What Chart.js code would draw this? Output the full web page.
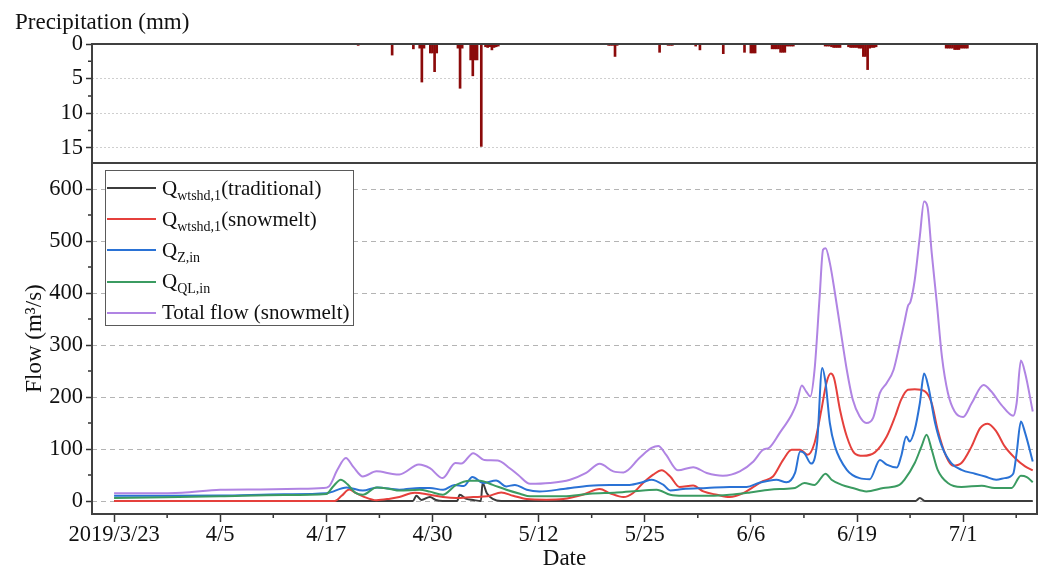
<!DOCTYPE html>
<html>
<head>
<meta charset="utf-8">
<script src="https://cdn.jsdelivr.net/npm/chart.js@4.4.0/dist/chart.umd.min.js"></script>
<style>
  html, body { margin: 0; padding: 0; background: #fff; }
  #wrap { position: relative; width: 1041px; height: 570px; font-family: 'Liberation Serif', 'Times New Roman', serif; color: #111; }
  #precipTitle { position: absolute; left: 15px; top: 9px; font-size: 23px; line-height: 26px; }
  #legend { position: absolute; left: 105px; top: 170px; width: 247px; height: 154px; border: 1px solid #5a5a5a; background: #fff; }
  .row { position: absolute; left: 1px; height: 31px; display: flex; align-items: center; }
  .swatch { width: 49px; height: 2px; margin-right: 6px; }
  .txt { font-size: 21px; white-space: nowrap; line-height: 31px; }
  .txt sub { font-size: 14px; vertical-align: -5px; line-height: 0; }
</style>
</head>
<body>
<div id="wrap">
  <canvas id="flowChart" width="1041" height="570"></canvas>
  <div id="precipTitle">Precipitation (mm)</div>
  <div id="legend"></div>
</div>
<script>
// days counted from 2019/3/23
const tickDays = [0, 12.5, 25, 37.5, 50, 62.5, 75, 87.5, 100];
const dateLabels = ['2019/3/23', '4/5', '4/17', '4/30', '5/12', '5/25', '6/6', '6/19', '7/1'];
const flowTicks = [0, 100, 200, 300, 400, 500, 600];
const precipTicks = [0, 5, 10, 15];

const precipDays = [28.75, 32.75, 35.25, 36.0, 36.25, 36.5, 37.25, 37.5, 37.75, 38.0,
  40.5, 40.75, 41.0, 42.0, 42.25, 42.5, 42.75, 43.25,
  43.75, 44.0, 44.25, 44.5, 44.75, 45.0, 45.25,
  58.25, 58.5, 58.75, 59.0, 59.25, 64.25, 65.25, 65.5, 65.75, 68.5, 69.0, 71.75, 74.25,
  75.0, 75.25, 75.5, 77.5, 77.75, 78.0, 78.25, 78.5, 78.75, 79.0, 79.25, 79.5, 79.75, 80.0,
  83.75, 84.0, 84.25, 84.5, 84.75, 85.0, 85.25, 85.5,
  86.5, 86.75, 87.0, 87.25, 87.5, 87.75, 88.0, 88.25, 88.5, 88.75, 89.0, 89.25, 89.5, 89.75,
  98.0, 98.25, 98.5, 98.75, 99.0, 99.25, 99.5, 99.75, 100.0, 100.25, 100.5];
const precipMm = [0.2, 1.6, 0.7, 0.6, 5.5, 0.6, 1.3, 1.3, 4.0, 1.3,
  0.6, 6.4, 0.6, 2.3, 4.6, 2.3, 2.3, 14.8,
  0.4, 0.5, 0.4, 0.85, 0.5, 0.4, 0.3,
  0.2, 0.2, 0.2, 1.8, 0.2, 1.2, 0.2, 0.2, 0.2, 0.3, 0.85, 1.4, 1.2,
  1.3, 1.3, 1.3, 0.7, 0.7, 0.7, 0.7, 1.2, 1.2, 1.2, 0.3, 0.3, 0.3, 0.3,
  0.3, 0.3, 0.3, 0.4, 0.5, 0.5, 0.5, 0.5,
  0.4, 0.5, 0.5, 0.5, 0.5, 0.6, 0.6, 1.8, 1.8, 3.7, 0.6, 0.5, 0.5, 0.4,
  0.6, 0.6, 0.6, 0.6, 0.8, 0.8, 0.8, 0.6, 0.6, 0.6, 0.6];

// [day, flow m3/s]
const traditional = [[0, 0], [35.2, 0], [35.6, 10], [36.2, 2], [37.2, 7.7], [37.9, 2], [38.7, 0], [40.4, 0],
  [40.7, 12], [41.5, 4], [42.3, 2], [43.2, 0], [43.4, 34.6], [43.9, 15], [44.6, 4], [45.6, 0],
  [94.4, 0], [94.9, 5.8], [95.5, 0], [108.2, 0]];

const snowmelt = [[0, 0], [26, 0], [26.8, 10], [27.7, 22], [28.5, 15], [29.3, 9], [30.9, 1.5], [32.5, 4.5],
  [33.6, 7.7], [35.4, 16], [37.2, 12], [38.75, 7.7], [40.3, 5.8], [42.3, 7.7], [44, 9], [45.6, 16.5],
  [47, 10], [48.6, 3.8], [50.9, 2.6], [52.9, 3.8], [55.2, 12], [57.2, 23], [58.4, 15], [60, 7.7],
  [61.1, 15], [62.3, 34.6], [63.5, 50.6], [64.5, 59], [65.5, 47], [66.6, 27], [68.2, 30], [69.4, 18.5],
  [71, 12], [72.5, 7.7], [74.1, 15], [75.3, 27], [76.4, 38], [77.6, 47], [78.8, 79], [79.8, 98.6],
  [80.8, 98.6], [81.7, 89], [82.5, 111.5], [83.3, 175], [83.9, 227], [84.4, 245], [84.8, 236],
  [85.5, 175], [86.3, 124], [87.2, 92], [88.2, 87], [89.6, 93.5], [91, 124], [92, 163], [92.7, 195],
  [93.5, 214], [94.3, 215], [95.5, 211], [96.3, 188], [97, 137], [98, 86], [98.8, 68], [99.8, 73],
  [101, 105], [102, 140], [102.9, 148.6], [103.9, 134], [104.9, 105], [106.1, 82.7], [107.3, 66.5], [108.2, 59]];

const zInflow = [[0, 10], [6, 10], [12.5, 10.5], [20, 13], [25, 15], [27.4, 26], [29.3, 20], [31, 26],
  [33.6, 21.7], [36, 25], [37.2, 25], [38.75, 21.7], [40.1, 31], [41.2, 29], [42.2, 46], [43.5, 34.6],
  [45, 39.6], [46.2, 28], [47.2, 31], [48.6, 21.7], [50.1, 18.5], [52.9, 23], [56, 29.4], [58.4, 30.7],
  [60.7, 31], [62.3, 36.5], [63.3, 41], [64.7, 31], [65.5, 20.4], [67, 23], [69.8, 25], [72.5, 27],
  [74.5, 27], [76, 35], [78, 41], [79.2, 36], [80.2, 54], [80.8, 95], [81.3, 92], [82.1, 72],
  [82.8, 111.5], [83.4, 256], [83.8, 227], [84.3, 150], [84.9, 105], [86.3, 60], [87.8, 44], [89, 42],
  [90.2, 79], [91, 70], [92.2, 64.6], [92.7, 86], [93.3, 124], [93.7, 114.6], [94.3, 137], [94.9, 188],
  [95.4, 245], [95.9, 220], [96.7, 150], [97.5, 105], [98.6, 73], [99.8, 60], [101.4, 52.5], [102.6, 47],
  [103.9, 41], [104.9, 44], [105.9, 52.5], [106.3, 92], [106.8, 153], [107.3, 131], [108.2, 76]];

const qlInflow = [[0, 6], [6, 7], [12.5, 9], [20, 11.5], [25, 13.5], [25.8, 28], [26.7, 41], [27.5, 32],
  [28.4, 16], [29.3, 12], [30.9, 26], [32.5, 23], [33.6, 20], [36, 21.7], [37.2, 18], [38.7, 12],
  [40.3, 31], [41.9, 39], [43.1, 39], [44.6, 31], [46.2, 21.7], [47.8, 14], [49, 9], [52.9, 9],
  [56, 14], [59.2, 16.5], [62.3, 20.4], [63.9, 21.7], [65.5, 12], [67, 10], [70.2, 10], [72.5, 12],
  [74.9, 16.5], [77.2, 21.7], [78.4, 23], [80.2, 25], [81.3, 34.6], [82.5, 31], [83.8, 52.5], [84.5, 41],
  [85.7, 31], [87, 25], [88.6, 18.5], [90.6, 25], [92.5, 31], [93.1, 41], [94.3, 73], [95.1, 105],
  [95.7, 127.5], [96.3, 98.6], [97, 60], [98.2, 34.6], [99.8, 27], [102.2, 29.4], [103.7, 25],
  [105.7, 25], [106.8, 48.6], [107.5, 46], [108.2, 36]];

const totalFlow = [[0, 15], [4, 15], [8, 16], [12.5, 21.5], [17.2, 22.3], [21.9, 23.4], [24.6, 25],
  [25.3, 28], [26.3, 60], [27.3, 82.7], [28.2, 65], [29.3, 47], [30.9, 57], [32.8, 52], [33.6, 51],
  [35.9, 70], [37.2, 63], [38.7, 44], [40.2, 73], [40.9, 72], [42.3, 92], [43.6, 79], [45.2, 78],
  [46.6, 63], [47.6, 50], [49, 33], [51.3, 34.6], [53.7, 41], [55.6, 54], [57.2, 71.7], [58.8, 57],
  [60, 55], [61.9, 83], [63.3, 102], [64.1, 106], [65, 89], [66.4, 59], [68.2, 65], [69.8, 54],
  [71.7, 48.7], [73.7, 57], [75.3, 76], [76.4, 98], [77.2, 103], [78.4, 131], [79.8, 166], [80.4, 188],
  [81, 222], [81.5, 211], [82, 201], [82.5, 252], [83.1, 393], [83.5, 483], [83.8, 486], [84.3, 458],
  [84.9, 400], [85.5, 336], [86.3, 252], [87, 195], [87.8, 163], [88.6, 150], [89.4, 160], [90.2, 208],
  [91, 227], [91.8, 252], [92.5, 300], [93.1, 345], [93.5, 375], [93.8, 383], [94.3, 425], [94.9, 509],
  [95.4, 576], [95.8, 566], [96.3, 477], [96.9, 381], [97.5, 278], [98.2, 208], [99, 172], [100, 161.5],
  [101, 188], [102.4, 223], [103.3, 211], [104.5, 185], [105.9, 164], [106.3, 188], [106.8, 270],
  [107.3, 246], [108.2, 172]];

const seriesColors = ['#3c3c3c', '#e5403c', '#2a72d5', '#3b9b61', '#b084e3'];
const legendMain = ['Q', 'Q', 'Q', 'Q', 'Total flow (snowmelt)'];
const legendSub = ['wtshd,1', 'wtshd,1', 'Z,in', 'QL,in', ''];
const legendTail = ['(traditional)', '(snowmelt)', '', '', ''];

const fontFamily = "'Liberation Serif', 'Times New Roman', serif";
const toPoints = (pairs) => pairs.map(([x, y]) => ({ x, y }));

// later series are drawn over earlier ones (black lowest)
function lineSet(label, pairs, idx) {
  return {
    type: 'line',
    label,
    data: toPoints(pairs),
    yAxisID: 'yF',
    borderColor: seriesColors[idx],
    backgroundColor: seriesColors[idx],
    borderWidth: 2,
    pointRadius: 0,
    cubicInterpolationMode: 'monotone',
    order: 5 - idx,
  };
}

// frame, panel divider and minor ticks
const framePlugin = {
  id: 'framePlugin',
  afterDraw(chart) {
    const { ctx, chartArea: a, scales } = chart;
    ctx.save();
    ctx.strokeStyle = '#333';
    ctx.lineWidth = 1.5;
    ctx.beginPath();
    tickDays.forEach((d) => {
      const x = scales.x.getPixelForValue(d + 6.25);
      if (x < a.right) { ctx.moveTo(x, a.bottom); ctx.lineTo(x, a.bottom + 4); }
    });
    flowTicks.slice(0, -1).forEach((v) => {
      const y = scales.yF.getPixelForValue(v + 50);
      ctx.moveTo(a.left - 4, y); ctx.lineTo(a.left, y);
    });
    precipTicks.forEach((v) => {
      const y = scales.yP.getPixelForValue(v + 2.5);
      if (y < scales.yP.bottom) { ctx.moveTo(a.left - 4, y); ctx.lineTo(a.left, y); }
    });
    ctx.stroke();
    ctx.strokeStyle = '#404040';
    ctx.lineWidth = 2;
    ctx.strokeRect(a.left, a.top, a.right - a.left, a.bottom - a.top);
    ctx.beginPath();
    ctx.moveTo(a.left, scales.yP.bottom);
    ctx.lineTo(a.right, scales.yP.bottom);
    ctx.stroke();
    ctx.restore();
  },
};

const tickFont = { family: fontFamily, size: 22.5 };
const titleFont = { family: fontFamily, size: 23, lineHeight: 1 };

new Chart(document.getElementById('flowChart'), {
  type: 'line',
  data: {
    datasets: [
      lineSet('Qwtshd,1(traditional)', traditional, 0),
      lineSet('Qwtshd,1(snowmelt)', snowmelt, 1),
      lineSet('QZ,in', zInflow, 2),
      lineSet('QQL,in', qlInflow, 3),
      lineSet('Total flow (snowmelt)', totalFlow, 4),
      {
        type: 'bar',
        label: 'Precipitation',
        data: precipDays.map((d, i) => ({ x: d, y: precipMm[i] })),
        yAxisID: 'yP',
        backgroundColor: '#8b0a0a',
        borderWidth: 0,
        barThickness: 2,
        order: 0,
      },
    ],
  },
  options: {
    responsive: false,
    devicePixelRatio: 1,
    animation: false,
    layout: { padding: { top: 44, right: 4, left: 0, bottom: 0 } },
    plugins: { legend: { display: false }, tooltip: { enabled: false } },
    scales: {
      x: {
        type: 'linear',
        offset: false,
        min: -2.6,
        max: 108.7,
        afterBuildTicks: (s) => { s.ticks = tickDays.map((v) => ({ value: v })); },
        afterFit: (s) => { s.height = 56; },
        ticks: {
          autoSkip: false,
          maxRotation: 0,
          padding: 0,
          color: '#111',
          font: tickFont,
          callback: (v, i) => dateLabels[i],
        },
        grid: { offset: false, drawOnChartArea: false, tickLength: 8, tickColor: '#333', tickWidth: 1.5 },
        border: { display: false },
        title: { display: true, text: 'Date', color: '#111', font: titleFont, padding: { top: 0, bottom: 0 } },
      },
      yF: {
        type: 'linear',
        position: 'left',
        stack: 'panels',
        stackWeight: 351,
        min: -25,
        max: 650,
        afterBuildTicks: (s) => { s.ticks = flowTicks.map((v) => ({ value: v })); },
        afterFit: (s) => { s.width = 92; },
        ticks: { autoSkip: false, color: '#111', font: tickFont, padding: 3 },
        grid: { color: '#b4b4b4', lineWidth: 1, tickLength: 6, tickColor: '#333', tickWidth: 1.5, tickBorderDash: [] },
        border: { display: false, dash: [5, 4] },
        title: { display: true, text: 'Flow (m³/s)', color: '#111', font: titleFont, padding: { top: 23, bottom: 0 } },
      },
      yP: {
        type: 'linear',
        position: 'left',
        stack: 'panels',
        stackWeight: 119,
        reverse: true,
        min: 0,
        max: 17.2,
        afterBuildTicks: (s) => { s.ticks = precipTicks.map((v) => ({ value: v })); },
        afterFit: (s) => { s.width = 92; },
        ticks: { autoSkip: false, color: '#111', font: tickFont, padding: 3 },
        grid: { color: '#cfcfcf', lineWidth: 1, tickLength: 6, tickColor: '#333', tickWidth: 1.5, tickBorderDash: [] },
        border: { display: false, dash: [2, 2] },
      },
    },
  },
  plugins: [framePlugin],
});

// legend with subscripts
const legendEl = document.getElementById('legend');
legendMain.forEach((main, i) => {
  const row = document.createElement('div');
  row.className = 'row';
  row.style.top = (1.5 + i * 31.2) + 'px';
  const sw = document.createElement('div');
  sw.className = 'swatch';
  sw.style.background = seriesColors[i];
  const txt = document.createElement('span');
  txt.className = 'txt';
  txt.innerHTML = main + (legendSub[i] ? '<sub>' + legendSub[i] + '</sub>' : '') + legendTail[i];
  row.appendChild(sw);
  row.appendChild(txt);
  legendEl.appendChild(row);
});
</script>
</body>
</html>
